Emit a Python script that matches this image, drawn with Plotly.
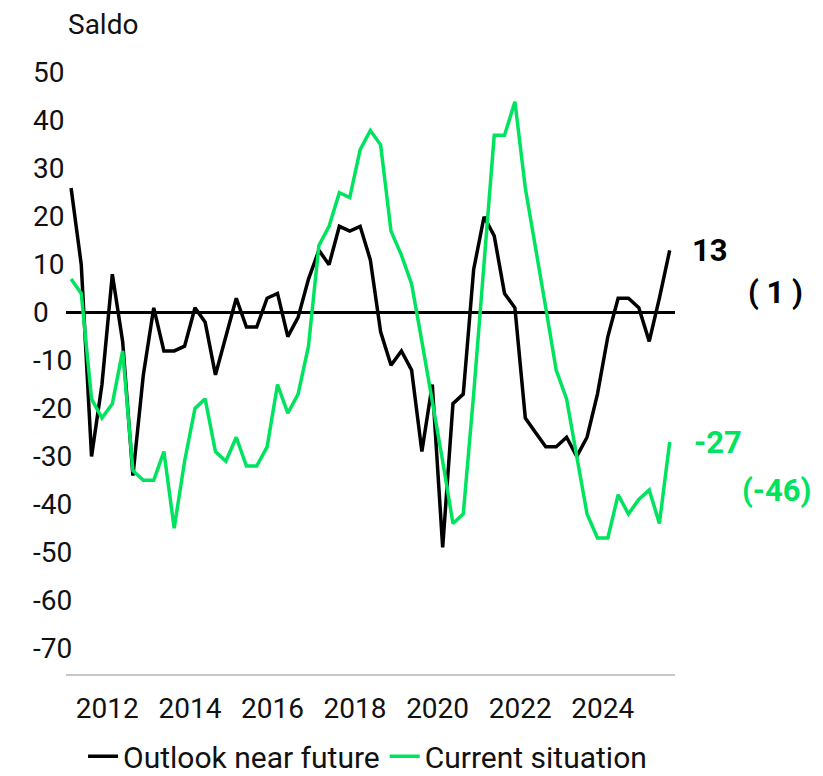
import pandas as pd
import plotly.graph_objects as go

# Quarterly periods 2011Q1 .. 2025Q3 (plotted at mid-quarter)
quarters = pd.period_range("2011Q1", "2025Q3", freq="Q")
dates = [(p.start_time + pd.Timedelta(days=45)).strftime("%Y-%m-%d") for p in quarters]

outlook_near_future = [
    26, 10, -30, -15,
    8, -6, -34, -13,
    1, -8, -8, -7,
    1, -2, -13, -5,
    3, -3, -3, 3,
    4, -5, -1, 7,
    13, 10, 18, 17,
    18, 11, -4, -11,
    -8, -12, -29, -15,
    -49, -19, -17, 9,
    20, 16, 4, 1,
    -22, -25, -28, -28,
    -26, -30, -26, -17,
    -5, 3, 3, 1,
    -6, 3, 13,
]

current_situation = [
    7, 4, -18, -22,
    -19, -8, -33, -35,
    -35, -29, -45, -31,
    -20, -18, -29, -31,
    -26, -32, -32, -28,
    -15, -21, -17, -7,
    14, 18, 25, 24,
    34, 38, 35, 17,
    12, 6, -6, -18,
    -31, -44, -42, -17,
    11, 37, 37, 44,
    26, 13, 1, -12,
    -18, -30, -42, -47,
    -47, -38, -42, -39,
    -37, -44, -27,
]

prev_outlook = 1
prev_current = -46

y_ticks = [50, 40, 30, 20, 10, 0, -10, -20, -30, -40, -50, -60, -70]
x_ticks = ["2012-01-01", "2014-01-01", "2016-01-01", "2018-01-01",
           "2020-01-01", "2022-01-01", "2024-01-01"]

BLACK = "#000000"
GREEN = "#00e35f"
FONT = "Roboto, sans-serif"
TXT = "#111111"
FS = 28
FSB = 31

fig = go.Figure()
fig.add_trace(go.Scatter(x=dates, y=outlook_near_future, mode="lines",
                         name="Outlook near future",
                         line=dict(color=BLACK, width=3.5)))
fig.add_trace(go.Scatter(x=dates, y=current_situation, mode="lines",
                         name="Current situation",
                         line=dict(color=GREEN, width=3.5)))

annotations = []
for v in y_ticks:
    annotations.append(dict(x=-0.0575, xref="paper", y=v, yref="y",
                            text=str(v), showarrow=False, xanchor="left",
                            yanchor="middle",
                            font=dict(family=FONT, size=FS, color=TXT)))
annotations.append(dict(x=0.0, xref="paper", y=1.0586, yref="paper",
                        text="Saldo", showarrow=False, xanchor="left",
                        yanchor="middle",
                        font=dict(family=FONT, size=FS, color=TXT)))

last_x = dates[-1]
annotations += [
    dict(x=last_x, y=outlook_near_future[-1], text=str(outlook_near_future[-1]),
         showarrow=False, xanchor="left", yanchor="middle", xshift=20,
         font=dict(family=FONT, size=FSB, color=BLACK, weight="bold")),
    dict(x=last_x, y=outlook_near_future[-1], text=f"( {prev_outlook} )",
         showarrow=False, xanchor="left", yanchor="middle", xshift=76, yshift=-42,
         font=dict(family=FONT, size=FSB, color=BLACK, weight="bold")),
    dict(x=last_x, y=current_situation[-1], text=str(current_situation[-1]),
         showarrow=False, xanchor="left", yanchor="middle", xshift=22,
         font=dict(family=FONT, size=FSB, color=GREEN, weight="bold")),
    dict(x=last_x, y=current_situation[-1], text=f"({prev_current})",
         showarrow=False, xanchor="left", yanchor="middle", xshift=70, yshift=-48,
         font=dict(family=FONT, size=FSB, color=GREEN, weight="bold")),
]

# page body has an 8px default margin, so the figure is drawn at (8, 8)
fig.update_layout(
    width=815, height=768,
    margin=dict(l=58, r=148, t=52, b=102, autoexpand=False),
    paper_bgcolor="white", plot_bgcolor="white",
    font=dict(family=FONT, size=FS, color=TXT),
    showlegend=True,
    legend=dict(orientation="h", x=0.028, xanchor="left", y=-0.134,
                yanchor="middle", font=dict(family=FONT, size=30, color=TXT),
                itemwidth=30, tracegroupgap=0, bgcolor="rgba(0,0,0,0)"),
    annotations=annotations,
    xaxis=dict(type="date", range=["2011-01-01", "2025-10-01"],
               tickvals=x_ticks, tickformat="%Y", showgrid=False,
               showline=True, linecolor="#c8c8c8", linewidth=2,
               ticks="outside", ticklen=8, tickcolor="rgba(0,0,0,0)",
               tickfont=dict(family=FONT, size=FS, color=TXT),
               zeroline=False, automargin=False),
    yaxis=dict(range=[-75.4, 52.7], tickvals=y_ticks, showticklabels=False,
               showgrid=False, zeroline=True, zerolinecolor=BLACK,
               zerolinewidth=3, showline=False, automargin=False),
)

fig.write_html("out.html")
